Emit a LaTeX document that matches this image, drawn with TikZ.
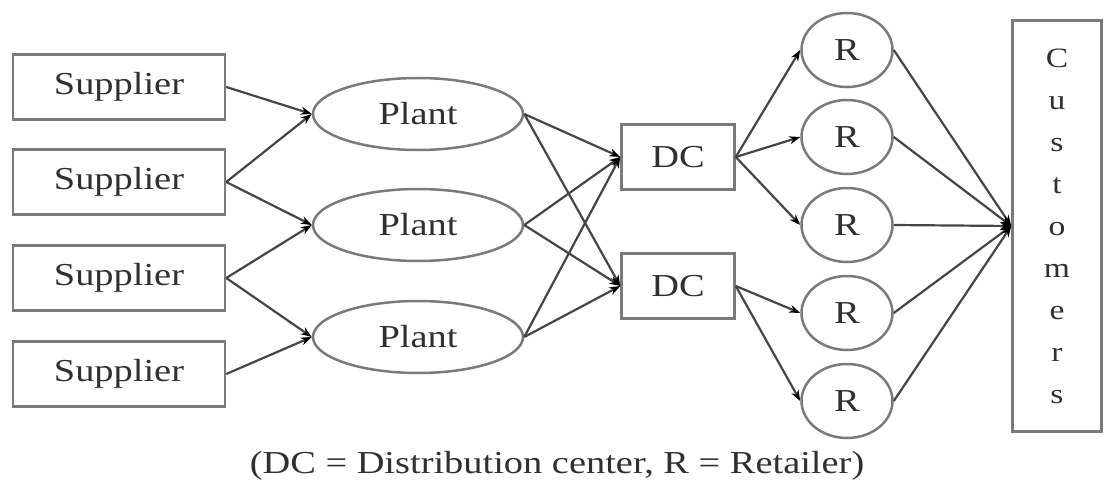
\documentclass[tikz,border=0pt]{standalone}
\usepackage{fontspec}
\setmainfont{Liberation Serif}[FakeStretch=1.2]
\usetikzlibrary{arrows.meta,shapes.geometric}
\definecolor{boxgray}{HTML}{7A7A7A}
\definecolor{linegray}{HTML}{454545}
\definecolor{txtgray}{HTML}{303030}
\begin{document}
\begin{tikzpicture}[x=1pt,y=-1pt,
  every node/.style={font=\fontsize{32}{38}\selectfont, text=txtgray},
  supbox/.style={draw=boxgray, line width=2.5pt, minimum width=212pt, minimum height=65pt, inner sep=0pt},
  plantnode/.style={draw=boxgray, line width=2.5pt, ellipse, minimum width=210pt, minimum height=72pt, inner sep=0pt},
  dcbox/.style={draw=boxgray, line width=2.5pt, minimum width=113pt, minimum height=65pt, inner sep=0pt},
  rnode/.style={draw=boxgray, line width=2.5pt, ellipse, minimum width=91pt, minimum height=74pt, inner sep=0pt},
  flow/.style={draw=linegray, line width=2.2pt, -{Stealth[length=11pt,width=8pt,black]}}
]
\useasboundingbox (0,0) rectangle (1108,495);
% suppliers
\node[supbox] (s1) at (119,87) {Supplier};
\node[supbox] (s2) at (119,182) {Supplier};
\node[supbox] (s3) at (119,278) {Supplier};
\node[supbox] (s4) at (119,374) {Supplier};
% plants
\node[plantnode] (p1) at (418,114) {Plant};
\node[plantnode] (p2) at (418,225) {Plant};
\node[plantnode] (p3) at (418,337) {Plant};
% DCs
\node[dcbox] (d1) at (678,157) {DC};
\node[dcbox] (d2) at (678,286) {DC};
% retailers
\node[rnode] (r1) at (847,50) {R};
\node[rnode] (r2) at (847,137) {R};
\node[rnode] (r3) at (847,225) {R};
\node[rnode] (r4) at (847,313) {R};
\node[rnode] (r5) at (847,401) {R};
% customers
\node[draw=boxgray, line width=2.5pt, minimum width=89pt, minimum height=411pt, inner sep=0pt,
      align=center, font=\fontsize{28}{42}\selectfont] (c) at (1057,226)
  {C\\u\\s\\t\\o\\m\\e\\r\\s};
% caption
\node (cap) at (557,466) {(DC = Distribution center, R = Retailer)};
% edges supplier -> plant
\draw[flow] (s1.east) -- (p1.west);
\draw[flow] (s2.east) -- (p1.west);
\draw[flow] (s2.east) -- (p2.west);
\draw[flow] (s3.east) -- (p2.west);
\draw[flow] (s3.east) -- (p3.west);
\draw[flow] (s4.east) -- (p3.west);
% plant -> DC
\draw[flow] (p1.east) -- (d1.west);
\draw[flow] (p1.east) -- (d2.west);
\draw[flow] (p2.east) -- (d1.west);
\draw[flow] (p2.east) -- (d2.west);
\draw[flow] (p3.east) -- (d1.west);
\draw[flow] (p3.east) -- (d2.west);
% DC -> R
\draw[flow] (d1.east) -- (r1.west);
\draw[flow] (d1.east) -- (r2.west);
\draw[flow] (d1.east) -- (r3.west);
\draw[flow] (d2.east) -- (r4.west);
\draw[flow] (d2.east) -- (r5.west);
% R -> customers
\draw[flow] (r1.east) -- (c.west);
\draw[flow] (r2.east) -- (c.west);
\draw[flow] (r3.east) -- (c.west);
\draw[flow] (r4.east) -- (c.west);
\draw[flow] (r5.east) -- (c.west);
\end{tikzpicture}
\end{document}
